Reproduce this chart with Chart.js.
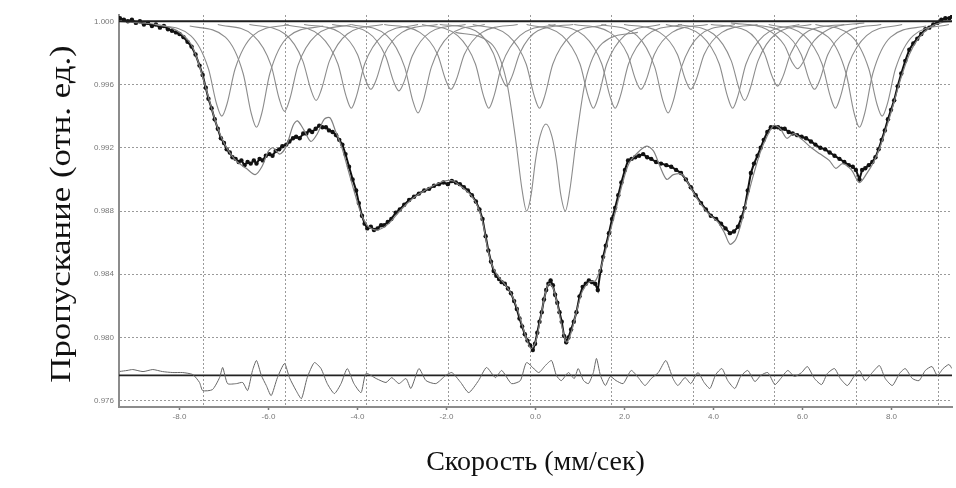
<!DOCTYPE html>
<html>
<head>
<meta charset="utf-8">
<script src="https://cdn.jsdelivr.net/npm/chart.js@4.4.1/dist/chart.umd.min.js"></script>
<style>
  html, body { margin: 0; padding: 0; background: #fff; }
  #wrap { width: 956px; height: 488px; }
</style>
</head>
<body>
<div id="wrap"><canvas id="spectrum"></canvas></div>
<script>
// velocity range (mm/s) and transmission range
const velocityRange = [-9.36, 9.36];
const transmissionRange = [0.9756, 1.0004];
const xTicks = [-8, -6, -4, -2, 0, 2, 4, 6, 8];
const yTicks = [0.976, 0.980, 0.984, 0.988, 0.992, 0.996, 1.000];
// the program draws its vertical grid on its own channel division, not on the labels
const gridDivisions = [1, 2, 3, 4, 5, 6, 7, 8, 9, 10];
const gridDivisionRange = [-0.038, 10.171];

const baseline = [[-9.36, 1.0], [9.36, 1.0]];
const residualBase = [[-9.36, 0.9776], [9.36, 0.9776]];

// measured spectrum [velocity, transmission]
const measured = [
  [-9.34,1.0002],[-9.25,1.0001],[-9.16,1.0000],[-9.07,1.0001],[-8.98,0.9999],[-8.89,1.0000],
  [-8.80,0.9998],[-8.71,0.9999],[-8.62,0.9997],[-8.53,0.9998],[-8.44,0.9996],[-8.35,0.9997],
  [-8.26,0.9995],[-8.17,0.9994],[-8.08,0.9993],[-8.00,0.9992],[-7.91,0.9990],[-7.82,0.9987],
  [-7.73,0.9984],[-7.64,0.9979],[-7.55,0.9972],[-7.48,0.9966],[-7.41,0.9958],[-7.35,0.9951],
  [-7.28,0.9945],[-7.21,0.9938],[-7.14,0.9932],[-7.07,0.9926],[-7.00,0.9923],[-6.94,0.9919],
  [-6.87,0.9917],[-6.81,0.9914],[-6.74,0.9913],[-6.67,0.9911],[-6.61,0.9912],[-6.54,0.9909],
  [-6.47,0.9911],[-6.40,0.9910],[-6.33,0.9912],[-6.27,0.9910],[-6.20,0.9913],[-6.13,0.9912],
  [-6.06,0.9915],[-5.98,0.9916],[-5.91,0.9915],[-5.84,0.9918],[-5.76,0.9919],[-5.69,0.9921],
  [-5.60,0.9922],[-5.53,0.9924],[-5.45,0.9926],[-5.38,0.9927],[-5.30,0.9926],[-5.22,0.9929],
  [-5.15,0.9929],[-5.08,0.9931],[-5.02,0.9930],[-4.94,0.9932],[-4.86,0.9934],[-4.79,0.9933],
  [-4.71,0.9933],[-4.64,0.9931],[-4.56,0.9930],[-4.48,0.9928],[-4.41,0.9925],[-4.34,0.9922],
  [-4.27,0.9916],[-4.19,0.9908],[-4.11,0.9900],[-4.03,0.9893],[-3.97,0.9885],[-3.90,0.9877],
  [-3.84,0.9872],[-3.78,0.9869],[-3.70,0.9870],[-3.63,0.9868],[-3.55,0.9869],[-3.47,0.9871],
  [-3.40,0.9871],[-3.32,0.9873],[-3.24,0.9875],[-3.14,0.9879],[-3.05,0.9881],[-2.95,0.9884],
  [-2.84,0.9887],[-2.73,0.9889],[-2.62,0.9891],[-2.50,0.9893],[-2.39,0.9894],[-2.28,0.9896],
  [-2.17,0.9897],[-2.07,0.9898],[-1.97,0.9897],[-1.88,0.9899],[-1.79,0.9898],[-1.70,0.9897],
  [-1.61,0.9895],[-1.52,0.9893],[-1.43,0.9890],[-1.34,0.9886],[-1.26,0.9881],[-1.19,0.9875],
  [-1.12,0.9864],[-1.06,0.9855],[-1.00,0.9848],[-0.94,0.9842],[-0.88,0.9839],[-0.82,0.9837],
  [-0.76,0.9835],[-0.69,0.9834],[-0.62,0.9831],[-0.55,0.9828],[-0.48,0.9823],[-0.42,0.9818],
  [-0.36,0.9812],[-0.30,0.9807],[-0.24,0.9802],[-0.18,0.9798],[-0.12,0.9795],[-0.06,0.9792],
  [-0.01,0.9796],[0.04,0.9803],[0.09,0.9810],[0.14,0.9816],[0.19,0.9824],[0.24,0.9830],
  [0.29,0.9834],[0.34,0.9836],[0.39,0.9833],[0.44,0.9827],[0.49,0.9822],[0.54,0.9816],
  [0.59,0.9810],[0.64,0.9801],[0.69,0.9797],[0.74,0.9800],[0.80,0.9805],[0.86,0.9810],
  [0.92,0.9816],[0.99,0.9826],[1.06,0.9832],[1.13,0.9834],[1.20,0.9836],[1.27,0.9835],
  [1.34,0.9834],[1.40,0.9830],[1.46,0.9842],[1.52,0.9851],[1.58,0.9858],[1.65,0.9866],
  [1.72,0.9875],[1.79,0.9882],[1.86,0.9890],[1.93,0.9898],[2.01,0.9906],[2.08,0.9912],
  [2.16,0.9913],[2.24,0.9914],[2.33,0.9915],[2.42,0.9916],[2.51,0.9914],[2.60,0.9913],
  [2.71,0.9911],[2.82,0.9910],[2.94,0.9909],[3.05,0.9908],[3.16,0.9906],[3.27,0.9904],
  [3.38,0.9900],[3.49,0.9895],[3.60,0.9890],[3.72,0.9885],[3.83,0.9881],[3.94,0.9877],
  [4.06,0.9875],[4.17,0.9872],[4.27,0.9869],[4.37,0.9866],[4.46,0.9867],[4.55,0.9870],
  [4.63,0.9876],[4.70,0.9882],[4.77,0.9893],[4.84,0.9904],[4.91,0.9910],[4.99,0.9915],
  [5.06,0.9920],[5.13,0.9925],[5.21,0.9930],[5.29,0.9933],[5.37,0.9933],[5.45,0.9933],
  [5.52,0.9932],[5.60,0.9932],[5.69,0.9930],[5.78,0.9929],[5.88,0.9928],[5.98,0.9927],
  [6.08,0.9926],[6.19,0.9924],[6.29,0.9922],[6.40,0.9920],[6.51,0.9919],[6.61,0.9917],
  [6.72,0.9915],[6.83,0.9913],[6.94,0.9911],[7.04,0.9909],[7.13,0.9908],[7.20,0.9906],
  [7.28,0.9900],[7.34,0.9906],[7.41,0.9907],[7.49,0.9909],[7.57,0.9911],[7.64,0.9914],
  [7.71,0.9919],[7.78,0.9925],[7.85,0.9931],[7.92,0.9938],[7.99,0.9944],[8.06,0.9950],
  [8.14,0.9959],[8.22,0.9967],[8.31,0.9975],[8.40,0.9982],[8.49,0.9986],[8.58,0.9989],
  [8.67,0.9992],[8.76,0.9995],[8.85,0.9996],[8.94,0.9998],[9.03,0.9999],[9.12,1.0001],
  [9.21,1.0002],[9.30,1.0002],[9.36,1.0003]
];

// total fitted envelope
const fitted = [
  [-9.36,1.0000],[-8.9,0.9999],[-8.5,0.9998],[-8.2,0.9996],[-7.95,0.9992],[-7.75,0.9986],
  [-7.6,0.9976],[-7.45,0.9962],[-7.3,0.9947],[-7.15,0.9933],[-7.0,0.9923],[-6.85,0.9916],
  [-6.7,0.9911],[-6.5,0.9907],[-6.3,0.9903],[-6.15,0.9908],[-6.0,0.9918],[-5.9,0.9920],
  [-5.75,0.9916],[-5.6,0.9921],[-5.45,0.9934],[-5.35,0.9937],[-5.2,0.9931],[-5.05,0.9924],
  [-4.9,0.9929],[-4.75,0.9938],[-4.62,0.9939],[-4.5,0.9931],[-4.35,0.9920],[-4.2,0.9905],
  [-4.05,0.9890],[-3.9,0.9877],[-3.75,0.9870],[-3.55,0.9868],[-3.3,0.9872],[-3.05,0.9880],
  [-2.8,0.9887],[-2.55,0.9892],[-2.3,0.9896],[-2.05,0.9899],[-1.85,0.9899],[-1.65,0.9895],
  [-1.45,0.9890],[-1.3,0.9883],[-1.18,0.9872],[-1.08,0.9857],[-0.98,0.9846],[-0.85,0.9839],
  [-0.7,0.9834],[-0.55,0.9828],[-0.42,0.9819],[-0.3,0.9808],[-0.2,0.9799],[-0.1,0.9793],
  [0.0,0.9797],[0.1,0.9810],[0.2,0.9825],[0.3,0.9834],[0.4,0.9831],[0.5,0.9820],
  [0.6,0.9806],[0.7,0.9797],[0.8,0.9803],[0.92,0.9816],[1.05,0.9829],[1.2,0.9835],
  [1.35,0.9836],[1.5,0.9847],[1.65,0.9864],[1.8,0.9880],[1.95,0.9897],[2.1,0.9910],
  [2.3,0.9917],[2.5,0.9921],[2.65,0.9918],[2.8,0.9908],[2.95,0.9900],[3.1,0.9903],
  [3.3,0.9903],[3.5,0.9894],[3.7,0.9885],[3.9,0.9878],[4.1,0.9873],[4.25,0.9866],
  [4.37,0.9859],[4.5,0.9862],[4.62,0.9872],[4.75,0.9887],[4.9,0.9903],[5.05,0.9917],
  [5.2,0.9927],[5.35,0.9934],[5.5,0.9932],[5.65,0.9926],[5.8,0.9929],[6.0,0.9925],
  [6.2,0.9920],[6.4,0.9916],[6.6,0.9912],[6.75,0.9907],[6.9,0.9910],[7.1,0.9906],
  [7.28,0.9898],[7.45,0.9904],[7.6,0.9911],[7.75,0.9921],[7.9,0.9934],[8.05,0.9948],
  [8.2,0.9963],[8.4,0.9979],[8.6,0.9989],[8.85,0.9996],[9.1,0.9999],[9.36,1.0000]
];

// single absorption lines of the sextet / doublet subspectra
const subLines = [
  [[-8.55,.9998],[-7.75,.9991],[-7.35,.9970],[-7.17,.9948],[-7.05,.9940],[-6.93,.9948],[-6.75,.9970],[-6.35,.9991],[-5.55,.9998]],
  [[-7.77,.9997],[-6.97,.9990],[-6.57,.9967],[-6.39,.9942],[-6.27,.9933],[-6.15,.9942],[-5.97,.9967],[-5.57,.9990],[-4.77,.9997]],
  [[-7.14,.9998],[-6.34,.9991],[-5.94,.9972],[-5.76,.9951],[-5.64,.9943],[-5.52,.9951],[-5.34,.9972],[-4.94,.9991],[-4.14,.9998]],
  [[-6.43,.9998],[-5.63,.9992],[-5.23,.9975],[-5.05,.9957],[-4.93,.9950],[-4.81,.9957],[-4.63,.9975],[-4.23,.9992],[-3.43,.9998]],
  [[-5.64,.9998],[-4.84,.9991],[-4.44,.9973],[-4.26,.9953],[-4.14,.9945],[-4.02,.9953],[-3.84,.9973],[-3.44,.9991],[-2.64,.9998]],
  [[-5.20,.9998],[-4.40,.9993],[-4.00,.9979],[-3.82,.9963],[-3.70,.9957],[-3.58,.9963],[-3.40,.9979],[-3.00,.9993],[-2.20,.9998]],
  [[-4.57,.9998],[-3.77,.9993],[-3.37,.9978],[-3.19,.9962],[-3.07,.9956],[-2.95,.9962],[-2.77,.9978],[-2.37,.9993],[-1.57,.9998]],
  [[-4.14,.9998],[-3.34,.9991],[-2.94,.9971],[-2.76,.9950],[-2.64,.9942],[-2.52,.9950],[-2.34,.9971],[-1.94,.9991],[-1.14,.9998]],
  [[-3.40,.9998],[-2.60,.9993],[-2.20,.9979],[-2.02,.9963],[-1.90,.9957],[-1.78,.9963],[-1.60,.9979],[-1.20,.9993],[-0.40,.9998]],
  [[-2.55,.9998],[-1.75,.9991],[-1.35,.9973],[-1.17,.9953],[-1.05,.9945],[-0.93,.9953],[-0.75,.9973],[-0.35,.9991],[0.45,.9998]],
  [[-2.15,.9998],[-1.35,.9994],[-0.95,.9980],[-0.77,.9965],[-0.65,.9959],[-0.53,.9965],[-0.35,.9980],[0.05,.9994],[0.85,.9998]],
  [[-1.41,.9998],[-0.61,.9991],[-0.21,.9973],[-0.03,.9953],[0.09,.9945],[0.21,.9953],[0.39,.9973],[0.79,.9991],[1.59,.9998]],
  [[-0.20,.9998],[0.60,.9991],[1.00,.9973],[1.18,.9953],[1.30,.9945],[1.42,.9953],[1.60,.9973],[2.00,.9991],[2.80,.9998]],
  [[0.29,.9998],[1.09,.9991],[1.49,.9973],[1.67,.9953],[1.79,.9945],[1.91,.9953],[2.09,.9973],[2.49,.9991],[3.29,.9998]],
  [[0.87,.9998],[1.67,.9993],[2.07,.9979],[2.25,.9963],[2.37,.9957],[2.49,.9963],[2.67,.9979],[3.07,.9993],[3.87,.9998]],
  [[1.48,.9998],[2.28,.9991],[2.68,.9971],[2.86,.9950],[2.98,.9942],[3.10,.9950],[3.28,.9971],[3.68,.9991],[4.48,.9998]],
  [[1.99,.9998],[2.79,.9993],[3.19,.9979],[3.37,.9963],[3.49,.9957],[3.61,.9963],[3.79,.9979],[4.19,.9993],[4.99,.9998]],
  [[2.93,.9998],[3.73,.9991],[4.13,.9973],[4.31,.9953],[4.43,.9945],[4.55,.9953],[4.73,.9973],[5.13,.9991],[5.93,.9998]],
  [[3.20,.9998],[4.00,.9992],[4.40,.9975],[4.58,.9957],[4.70,.9950],[4.82,.9957],[5.00,.9975],[5.40,.9992],[6.20,.9998]],
  [[3.94,.9998],[4.74,.9994],[5.14,.9980],[5.32,.9965],[5.44,.9959],[5.56,.9965],[5.74,.9980],[6.14,.9994],[6.94,.9998]],
  [[4.39,.9999],[5.19,.9995],[5.59,.9985],[5.77,.9974],[5.89,.9970],[6.01,.9974],[6.19,.9985],[6.59,.9995],[7.39,.9999]],
  [[4.77,.9998],[5.57,.9993],[5.97,.9979],[6.15,.9963],[6.27,.9957],[6.39,.9963],[6.57,.9979],[6.97,.9993],[7.77,.9998]],
  [[5.24,.9998],[6.04,.9991],[6.44,.9973],[6.62,.9953],[6.74,.9945],[6.86,.9953],[7.04,.9973],[7.44,.9991],[8.24,.9998]],
  [[5.78,.9997],[6.58,.9990],[6.98,.9967],[7.16,.9942],[7.28,.9933],[7.40,.9942],[7.58,.9967],[7.98,.9990],[8.78,.9997]],
  [[6.29,.9998],[7.09,.9991],[7.49,.9970],[7.67,.9948],[7.79,.9940],[7.91,.9948],[8.09,.9970],[8.49,.9991],[9.29,.9998]]
];

// the deep quadrupole doublet near zero velocity
const doublet = [
  [-1.8,.9993],[-1.0,.9986],[-0.65,.9962],[-0.45,.9926],[-0.3,.9893],[-0.2,.9880],[-0.1,.9890],
  [0.0,.9912],[0.1,.9927],[0.235,.9935],[0.37,.9927],[0.47,.9912],[0.57,.9890],[0.67,.9880],
  [0.77,.9893],[0.92,.9926],[1.12,.9962],[1.5,.9986],[2.3,.9993]
];

// difference curve, drawn offset below the spectrum
const residual = [
  [-9.34,0.97785],[-9.18,0.97791],[-9.05,0.97797],[-8.82,0.97784],[-8.60,0.97797],[-8.38,0.97784],
  [-8.15,0.97778],[-7.93,0.97778],[-7.70,0.97765],[-7.55,0.97715],[-7.48,0.97664],[-7.26,0.97670],
  [-7.10,0.97746],[-7.03,0.97810],[-6.92,0.97708],[-6.72,0.97708],[-6.58,0.97715],[-6.47,0.97664],
  [-6.36,0.97791],[-6.27,0.97854],[-6.16,0.97759],[-6.05,0.97696],[-5.94,0.97632],[-5.80,0.97746],
  [-5.64,0.97835],[-5.53,0.97746],[-5.38,0.97664],[-5.26,0.97613],[-5.13,0.97746],[-4.97,0.97841],
  [-4.82,0.97803],[-4.68,0.97708],[-4.52,0.97645],[-4.37,0.97708],[-4.23,0.97803],[-4.08,0.97708],
  [-3.92,0.97651],[-3.81,0.97772],[-3.58,0.97740],[-3.36,0.97715],[-3.23,0.97746],[-3.07,0.97708],
  [-2.91,0.97740],[-2.80,0.97677],[-2.62,0.97803],[-2.46,0.97727],[-2.24,0.97708],[-2.02,0.97759],
  [-1.88,0.97778],[-1.68,0.97715],[-1.50,0.97651],[-1.28,0.97727],[-1.10,0.97810],[-0.90,0.97746],
  [-0.76,0.97791],[-0.54,0.97708],[-0.34,0.97727],[-0.20,0.97841],[0.07,0.97778],[0.22,0.97822],
  [0.36,0.97854],[0.47,0.97759],[0.58,0.97727],[0.74,0.97778],[0.87,0.97740],[0.96,0.97803],
  [1.08,0.97727],[1.19,0.97708],[1.30,0.97778],[1.37,0.97867],[1.46,0.97759],[1.57,0.97696],
  [1.68,0.97753],[1.81,0.97727],[1.97,0.97708],[2.15,0.97791],[2.31,0.97746],[2.46,0.97696],
  [2.60,0.97740],[2.76,0.97778],[2.93,0.97854],[3.09,0.97740],[3.20,0.97696],[3.36,0.97746],
  [3.49,0.97708],[3.65,0.97778],[3.79,0.97715],[3.92,0.97677],[4.05,0.97765],[4.19,0.97803],
  [4.32,0.97727],[4.48,0.97677],[4.61,0.97753],[4.77,0.97791],[4.93,0.97721],[5.06,0.97759],
  [5.22,0.97778],[5.38,0.97702],[5.51,0.97740],[5.67,0.97791],[5.82,0.97753],[5.98,0.97778],
  [6.11,0.97816],[6.27,0.97740],[6.43,0.97702],[6.56,0.97772],[6.72,0.97803],[6.85,0.97740],
  [7.01,0.97696],[7.17,0.97759],[7.28,0.97791],[7.41,0.97727],[7.57,0.97778],[7.73,0.97822],
  [7.86,0.97740],[8.02,0.97696],[8.18,0.97772],[8.31,0.97803],[8.47,0.97740],[8.62,0.97727],
  [8.76,0.97791],[8.91,0.97816],[9.03,0.97759],[9.16,0.97803],[9.29,0.97829],[9.36,0.97803]
];

const tickFont = { family: "Liberation Sans", size: 8 };
const titleFont = { family: "Liberation Serif", size: 28 };

// the scanned y title is drawn taller than the x one, so it is stretched along its length
const stretchedYTitle = {
  id: "stretchedYTitle",
  afterDraw(chart) {
    const { ctx, chartArea, scales } = chart;
    const title = chart.options.scales.y.title;
    ctx.save();
    ctx.translate(scales.y.left + 52, (chartArea.top + chartArea.bottom) / 2 + 3);
    ctx.rotate(-Math.PI / 2);
    ctx.scale(1.2, 1);
    ctx.font = "29px 'Liberation Serif'";
    ctx.fillStyle = "#111";
    ctx.textAlign = "center";
    ctx.textBaseline = "middle";
    ctx.fillText(title.text, 0, 0);
    ctx.restore();
  }
};

const datasets = [];
subLines.concat([doublet]).forEach(pts => {
  datasets.push({
    data: pts, borderColor: "#8c8c8c", borderWidth: 1.1,
    pointRadius: 0, cubicInterpolationMode: "monotone"
  });
});
datasets.push({ data: baseline, borderColor: "#1e1e1e", borderWidth: 2, pointRadius: 0 });
datasets.push({ data: fitted, borderColor: "#808080", borderWidth: 1.2, pointRadius: 0, tension: 0.3 });
datasets.push({
  data: measured, borderColor: "#111", borderWidth: 2, pointRadius: 2.2,
  pointBackgroundColor: "#111", pointBorderWidth: 0
});
datasets.push({ data: residual, borderColor: "#666", borderWidth: 1, pointRadius: 0, tension: 0.2 });
datasets.push({ data: residualBase, borderColor: "#222", borderWidth: 1.6, pointRadius: 0 });

new Chart(document.getElementById("spectrum"), {
  type: "line",
  data: { datasets },
  plugins: [stretchedYTitle],
  options: {
    responsive: true,
    maintainAspectRatio: false,
    animation: false,
    layout: { padding: { left: 10, top: 15, right: 1, bottom: 0 } },
    plugins: { legend: { display: false }, tooltip: { enabled: false } },
    scales: {
      x: {
        type: "linear",
        position: "bottom",
        min: velocityRange[0],
        max: velocityRange[1],
        afterBuildTicks: s => { s.ticks = xTicks.map(v => ({ value: v })); },
        afterFit: s => { s.height = 81; },
        grid: { drawOnChartArea: false, drawTicks: true, tickLength: 3, tickColor: "#777", tickWidth: 1.5 },
        border: { color: "#8c8c8c", width: 2 },
        ticks: {
          color: "#777", font: tickFont, padding: 2, maxRotation: 0,
          callback: v => Number(v).toFixed(1)
        },
        title: {
          display: true, text: "Скорость (мм/сек)", color: "#111", font: titleFont,
          padding: { top: 0, bottom: 9 }
        }
      },
      xg: {
        type: "linear",
        position: "top",
        min: gridDivisionRange[0],
        max: gridDivisionRange[1],
        afterBuildTicks: s => { s.ticks = gridDivisions.map(v => ({ value: v })); },
        afterFit: s => { s.height = 0; },
        ticks: { display: false },
        grid: { color: "#9a9a9a", lineWidth: 1, drawTicks: false, borderDash: [2, 2] },
        border: { display: false, dash: [2, 2] }
      },
      y: {
        type: "linear",
        min: transmissionRange[0],
        max: transmissionRange[1],
        afterBuildTicks: s => { s.ticks = yTicks.map(v => ({ value: v })); },
        afterFit: s => { s.width = 109; },
        grid: { color: "#9a9a9a", lineWidth: 1, drawTicks: false, borderDash: [2, 2] },
        border: { color: "#8c8c8c", width: 2, dash: [2, 2] },
        ticks: {
          color: "#777", font: tickFont, padding: 5,
          callback: v => Number(v).toFixed(3)
        },
        title: { display: false, text: "Пропускание (отн. ед.)" }
      }
    }
  }
});
</script>
</body>
</html>
